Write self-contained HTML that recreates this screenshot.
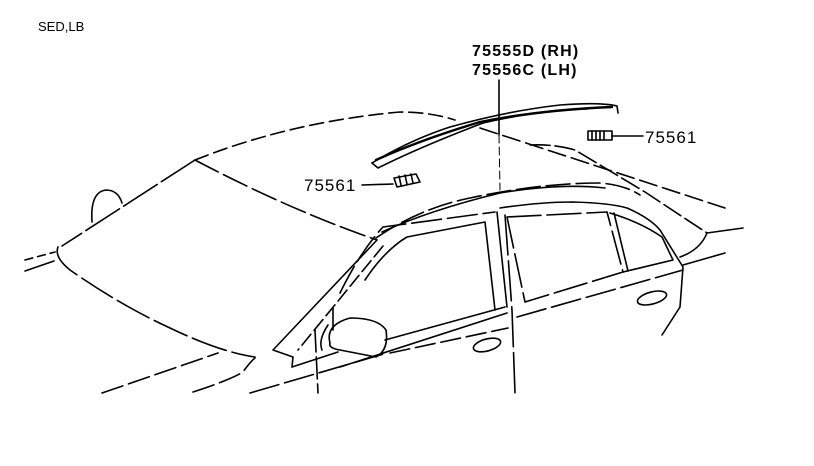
<!DOCTYPE html>
<html><head><style>
html,body{margin:0;padding:0;background:#fff;}
svg{display:block;}
text{font-family:"Liberation Sans",sans-serif;fill:#000;}
</style></head><body>
<svg width="814" height="466" viewBox="0 0 814 466" xmlns="http://www.w3.org/2000/svg">
<g fill="none" stroke="#000" stroke-width="1.6" stroke-linecap="round" stroke-linejoin="round">
<path d="M195,160 Q290,122 400,112 Q430,112 455,120" stroke-dasharray="14,6"/>
<path d="M480,128 L725,208" stroke-dasharray="18,6"/>
<path d="M530,145 Q555,144 575,150 L645,192 L707,233" stroke-dasharray="20,5"/>
<path d="M707,233 L743,228"/>
<path d="M707,233 Q700,250 680,257"/>
<path d="M683,265 L725,253"/>
<path d="M195,160 L62,246" stroke-dasharray="40,5"/>
<path d="M195,160 Q290,210 377,240" stroke-dasharray="26,6"/>
<path d="M58,247 Q54,257 70,270 Q120,305 170,328 Q220,352 255,357" stroke-dasharray="36,6"/>
<path d="M25,260 L55,252" stroke-dasharray="8,5"/>
<path d="M25,271 L54,261"/>
<path d="M92,222 Q90,192 106,190 Q118,190 122,203"/>
<path d="M102,393 L218,353" stroke-dasharray="22,6"/>
<path d="M193,392 Q230,380 243,372 Q250,362 255,358" stroke-dasharray="22,6"/>
<path d="M250,393 L387,353" stroke-dasharray="30,6"/>
<path d="M377,240 L273,350 L293,357 L292,367"/>
<path d="M383,246 L298,350" stroke-dasharray="14,5"/>
<path d="M292,367 L338,352"/>
<path d="M315,330 L318,393" stroke-dasharray="22,5"/>
<path d="M333,308 L333,330"/>
<path d="M330,343 Q325,325 350,318 Q378,318 386,330 Q389,350 376,357 L340,350 Q328,348 330,343"/>
<path d="M322,350 Q318,340 328,325"/>
<path d="M376,238 Q420,208 470,198 Q540,183 600,183 Q625,185 640,195" stroke-dasharray="24,6"/>
<path d="M382,232 Q430,210 500,193 Q560,183 605,188"/>
<path d="M340,293 Q360,252 383,227 L495,212" stroke-dasharray="30,6"/>
<path d="M365,280 Q385,250 407,237 L485,222 L495,310"/>
<path d="M385,340 L505,307"/>
<path d="M497,212 L507,307"/>
<path d="M505,215 L512,310 L515,393" stroke-dasharray="40,6"/>
<path d="M500,208 Q540,202 573,202 Q610,203 627,208 Q650,218 660,230 L683,267 L680,307 L662,335"/>
<path d="M507,217 L607,212 L623,272 L525,302 Z" stroke-dasharray="34,6"/>
<path d="M610,213 Q640,222 662,237 L673,260 L623,272"/>
<path d="M614,213 L628,271"/>
<path d="M340,367 L507,313"/>
<path d="M517,317 L683,270" stroke-dasharray="30,6"/>
<path d="M390,353 L508,328" stroke-dasharray="20,6"/>
<ellipse cx="487" cy="345" rx="14" ry="6" transform="rotate(-15 487 345)"/>
<ellipse cx="652" cy="298" rx="15" ry="6" transform="rotate(-15 652 298)"/>
<path d="M372,163 Q410,140 450,127 Q507,111 560,105 Q600,102 617,106 L618,113"/>
<path d="M372,163 L378,168 Q420,147 483,123 Q540,110 587,109"/>
<path d="M376,160 Q420,140 480,122 Q540,110 612,107" stroke-width="2.4"/>
<path d="M499,80 L499,135"/>
<path d="M499,135 L500,190" stroke-dasharray="8,4" stroke-width="1"/>
<path d="M394,178 L416,174 L420,182 L397,187 Z"/>
<path d="M399,176 L401,185 M405,175 L407,184 M411,174 L413,183"/>
<path d="M362,185 L393,184"/>
<rect x="588" y="131" width="24" height="9"/>
<path d="M592,131 V140 M596,131 V140 M600,131 V140 M604,131 V140"/>
<path d="M612,136 L643,136"/>
</g>
<text x="38" y="31" font-size="13">SED,LB</text>
<text x="472" y="56" font-size="16" font-weight="bold" letter-spacing="1.2">75555D (RH)</text>
<text x="472" y="75" font-size="16" font-weight="bold" letter-spacing="1.2">75556C (LH)</text>
<text x="304" y="191" font-size="17" letter-spacing="1">75561</text>
<text x="645" y="143" font-size="17" letter-spacing="1">75561</text>
</svg>
</body></html>
